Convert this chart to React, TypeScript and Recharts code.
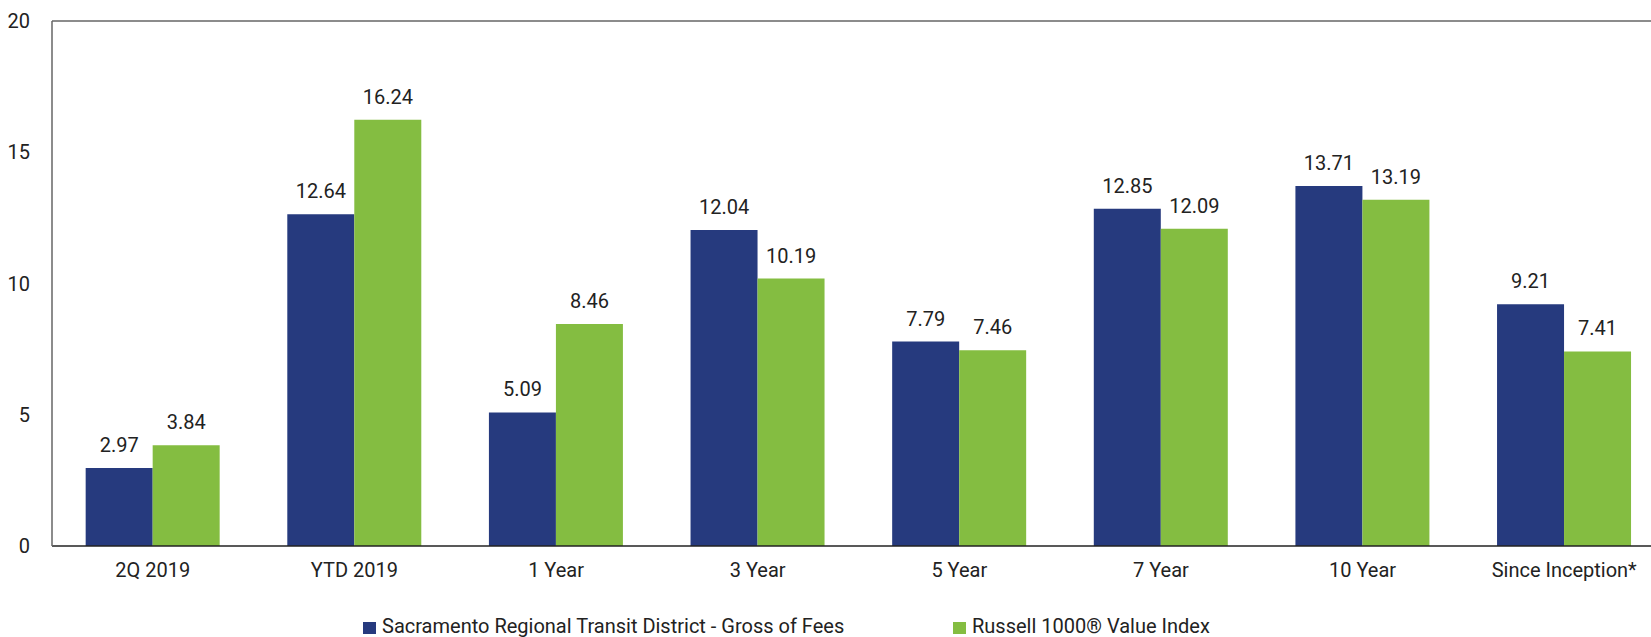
import { BarChart, Bar, XAxis, YAxis, LabelList, Legend, ReferenceLine } from "recharts";

const periods = ["2Q 2019", "YTD 2019", "1 Year", "3 Year", "5 Year", "7 Year", "10 Year", "Since Inception*"];
const sacramento = [2.97, 12.64, 5.09, 12.04, 7.79, 12.85, 13.71, 9.21];
const russell = [3.84, 16.24, 8.46, 10.19, 7.46, 12.09, 13.19, 7.41];
const yTicks = [0, 5, 10, 15, 20];

const seriesNames: Record<string, string> = {
  sacramento: "Sacramento Regional Transit District - Gross of Fees",
  russell: "Russell 1000® Value Index",
};

const BLUE = "#263A7E";
const GREEN = "#84BD41";
const FONT = "Roboto, 'Liberation Sans', sans-serif";

const data = periods.map((p, i) => ({
  period: p,
  sacramento: sacramento[i],
  russell: russell[i],
}));

// legend item x positions, by series
const legendLefts: Record<string, number> = { sacramento: 363, russell: 953 };
const legendColors: Record<string, string> = { sacramento: BLUE, russell: GREEN };

const renderLegend = () => (
  <div style={{ position: "relative", width: 1651, height: 24, fontFamily: FONT }}>
    {["sacramento", "russell"].map((key) => (
      <div
        key={key}
        style={{
          position: "absolute",
          left: legendLefts[key],
          top: 0,
          height: 24,
          lineHeight: "24px",
          display: "flex",
          alignItems: "center",
          whiteSpace: "nowrap",
          fontSize: 20,
          color: "#222",
        }}
      >
        <span
          style={{
            display: "inline-block",
            width: 13,
            height: 12,
            background: legendColors[key],
            marginRight: 6,
            marginTop: 3,
          }}
        />
        {seriesNames[key]}
      </div>
    ))}
  </div>
);

const tickStyle = { fontSize: 20, fill: "#222", fontFamily: FONT };

export default function App() {
  return (
    <div style={{ position: "absolute", left: 0, top: 0, width: 1651, height: 637, overflow: "hidden", background: "#fff" }}>
      <BarChart
        width={1680}
        height={637}
        data={data}
        margin={{ top: 21, right: 15, left: 12, bottom: 61 }}
        barCategoryGap="16.7%"
        barGap={0}
      >
        <ReferenceLine y={20} stroke="#666" strokeWidth={1.5} />
        <XAxis
          dataKey="period"
          tickLine={false}
          tickSize={0}
          tickMargin={17}
          height={30}
          axisLine={{ stroke: "#222", strokeWidth: 1.5 }}
          tick={tickStyle}
          interval={0}
        />
        <YAxis
          domain={[0, 20]}
          ticks={yTicks}
          width={40}
          tickLine={false}
          tickSize={0}
          tickMargin={22}
          axisLine={{ stroke: "#666", strokeWidth: 1.5 }}
          tick={tickStyle}
        />
        <Legend
          verticalAlign="middle"
          align="center"
          layout="horizontal"
          wrapperStyle={{ top: 614, left: 0, width: 1651 }}
          content={renderLegend}
        />
        <Bar dataKey="sacramento" name={seriesNames.sacramento} fill={BLUE} isAnimationActive={false}>
          <LabelList dataKey="sacramento" position="top" offset={16} style={tickStyle} />
        </Bar>
        <Bar dataKey="russell" name={seriesNames.russell} fill={GREEN} isAnimationActive={false}>
          <LabelList dataKey="russell" position="top" offset={16} style={tickStyle} />
        </Bar>
      </BarChart>
    </div>
  );
}
